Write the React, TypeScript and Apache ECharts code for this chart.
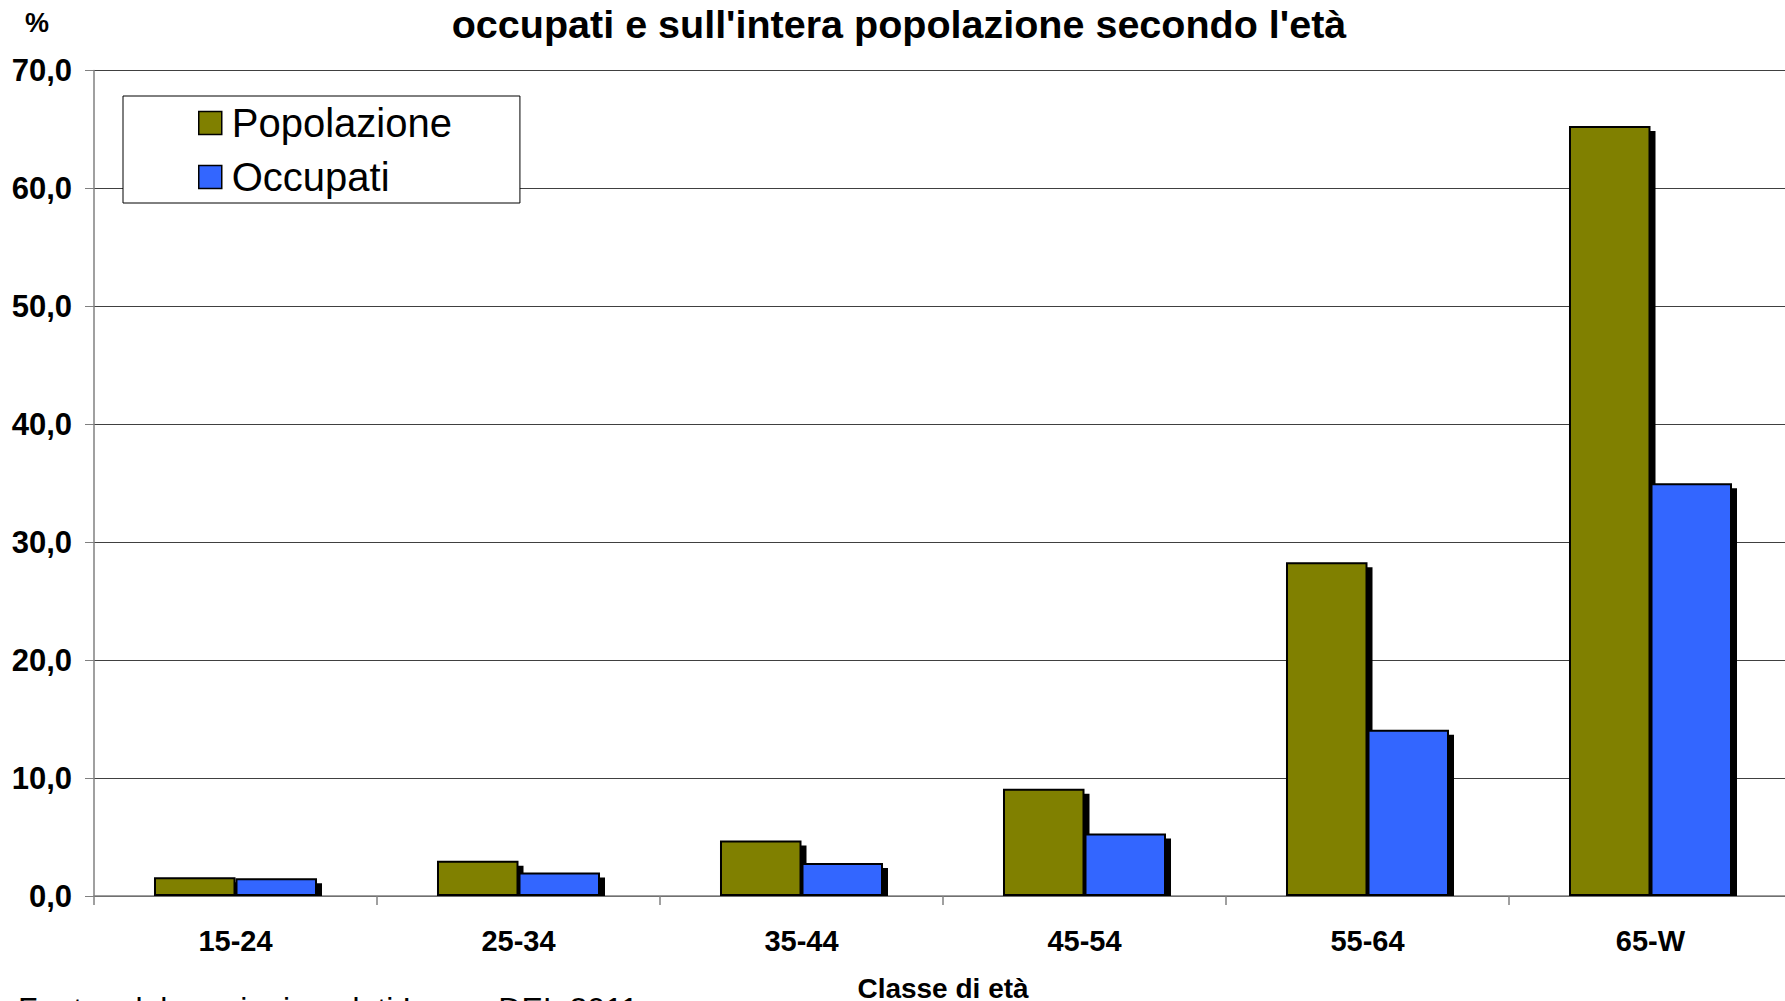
import React, { useEffect, useRef } from "react";
import * as echarts from "echarts";

const categories = ["15-24", "25-34", "35-44", "45-54", "55-64", "65-W"];
const popolazione = [1.6, 3.0, 4.7, 9.1, 28.3, 65.3];
const occupati = [1.5, 2.0, 2.8, 5.3, 14.1, 35.0];
const seriesNames = ["Popolazione", "Occupati"];
const colors = ["#808000", "#3366FF"];
const titleText = "occupati e sull'intera popolazione secondo l'età";
const xAxisName = "Classe di età";
const sourceText = "Fonte: elaborazioni su dati Inps e DEI, 2011";

const CAT_GAP = 0.424;
const FONT = "'Liberation Sans', Arial, sans-serif";

export default function App() {
  const ref = useRef<HTMLDivElement>(null);
  useEffect(() => {
    if (!ref.current) return;
    const chart = echarts.init(ref.current, null, { renderer: "svg" });

    const shadowData: number[][] = [];
    categories.forEach((_, i) => {
      shadowData.push([i, popolazione[i], 0]);
      shadowData.push([i, occupati[i], 1]);
    });

    const option: any = {
      animation: false,
      backgroundColor: "#ffffff",
      textStyle: { fontFamily: FONT },
      grid: { left: 94, right: -7, top: 70.6, bottom: 105, containLabel: false, outerBoundsMode: "none" },
      legend: {
        data: seriesNames,
        orient: "vertical",
        left: 123,
        top: 96,
        padding: [7, 68, 6, 75],
        itemGap: 14,
        itemWidth: 23,
        itemHeight: 23,
        borderColor: "#000",
        borderWidth: 1,
        backgroundColor: "#fff",
        icon: "rect",
        itemStyle: { borderColor: "#000", borderWidth: 1.5, shadowColor: "transparent", shadowBlur: 0, shadowOffsetX: 0, shadowOffsetY: 0 },
        textStyle: { fontSize: 40, color: "#000", lineHeight: 40, fontFamily: FONT, padding: [0, 0, 0, 5] },
      },
      xAxis: {
        type: "category",
        data: categories,
        name: xAxisName,
        nameLocation: "middle",
        nameGap: 78,
        nameTextStyle: { fontSize: 28, fontWeight: "bold", color: "#000", fontFamily: FONT },
        axisLine: { lineStyle: { color: "#808080", width: 1.5 } },
        axisTick: { show: true, length: 9, lineStyle: { color: "#808080", width: 1.5 } },
        axisLabel: { fontSize: 29, fontWeight: "bold", color: "#000", margin: 30, fontFamily: FONT },
      },
      yAxis: {
        type: "value",
        min: 0,
        max: 70,
        interval: 10,
        axisLine: { show: true, lineStyle: { color: "#808080", width: 1.5 } },
        axisTick: { show: true, length: 9, lineStyle: { color: "#808080", width: 1 } },
        splitLine: { show: true, lineStyle: { color: "#404040", width: 1 } },
        axisLabel: {
          fontSize: 31,
          fontWeight: "bold",
          color: "#000",
          margin: 22,
          fontFamily: FONT,
          formatter: (v: number) => v.toFixed(1).replace(".", ","),
        },
      },
      series: [
        {
          type: "custom",
          name: "shadow",
          z: 1,
          silent: true,
          data: shadowData,
          encode: { x: 0, y: 1 },
          renderItem: (params: any, api: any) => {
            const cat = api.value(0);
            const val = api.value(1);
            const s = api.value(2);
            const top = api.coord([cat, val]);
            const base = api.coord([cat, 0]);
            const catW = api.size([1, 0])[0];
            const bw = (catW * (1 - CAT_GAP)) / 2;
            const left = top[0] - bw + s * bw;
            const y = top[1] + 5;
            return {
              type: "rect",
              shape: { x: left + 5, y, width: bw, height: Math.max(0, base[1] - y) },
              style: { fill: "#000" },
            };
          },
        },
        {
          type: "bar",
          name: seriesNames[0],
          data: popolazione,
          z: 2,
          barGap: "0%",
          barCategoryGap: CAT_GAP * 100 + "%",
          itemStyle: { color: colors[0], borderColor: "#000", borderWidth: 2 },
        },
        {
          type: "bar",
          name: seriesNames[1],
          data: occupati,
          z: 2,
          barGap: "0%",
          barCategoryGap: CAT_GAP * 100 + "%",
          itemStyle: { color: colors[1], borderColor: "#000", borderWidth: 2 },
        },
      ],
      graphic: [
        {
          type: "text",
          x: 899,
          y: 24,
          style: { text: titleText, font: `bold 39.5px ${FONT}`, fill: "#000", textAlign: "center", textVerticalAlign: "middle" },
        },
        {
          type: "text",
          x: 37,
          y: 23,
          style: { text: "%", font: `bold 27px ${FONT}`, fill: "#000", textAlign: "center", textVerticalAlign: "middle" },
        },
        {
          type: "text",
          x: 18,
          y: 993,
          style: { text: sourceText, font: `32px ${FONT}`, fill: "#000", textAlign: "left", textVerticalAlign: "top" },
        },
      ],
    };
    chart.setOption(option);
    return () => chart.dispose();
  }, []);

  return <div ref={ref} style={{ position: "fixed", left: 0, top: 0, width: 1785, height: 1001 }} />;
}
